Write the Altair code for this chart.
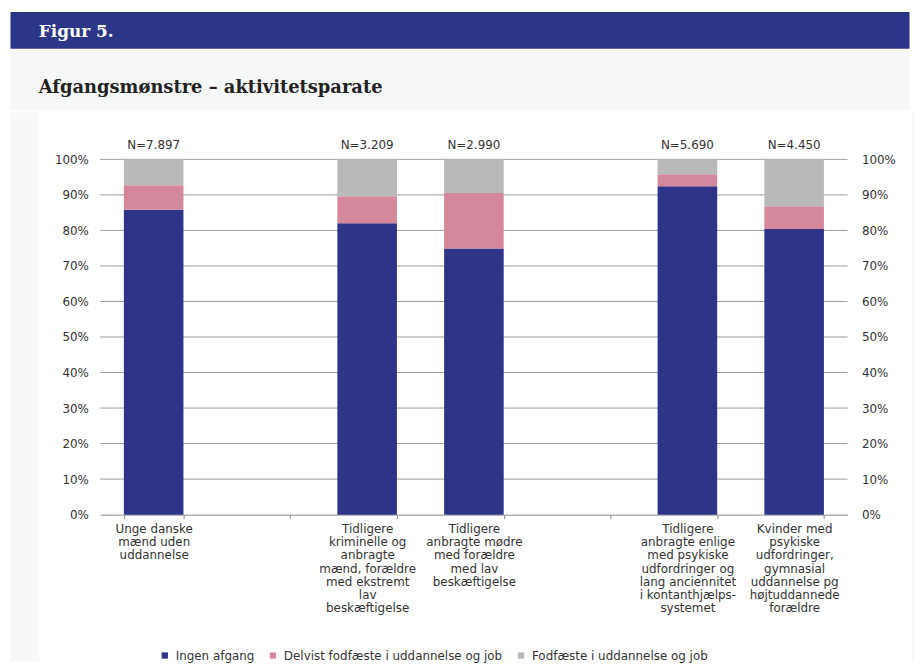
import altair as alt
import pandas as pd

# ---- data ----
categories = [
    "Unge danske|mænd uden|uddannelse",
    " ",
    "Tidligere|kriminelle og|anbragte|mænd, forældre|med ekstremt|lav|beskæftigelse",
    "Tidligere|anbragte mødre|med forældre|med lav|beskæftigelse",
    "  ",
    "Tidligere|anbragte enlige|med psykiske|udfordringer og|lang anciennitet|i kontanthjælps-|systemet",
    "Kvinder med|psykiske|udfordringer,|gymnasial|uddannelse pg|højtuddannede|forældre",
]
bar_groups = [categories[i] for i in (0, 2, 3, 5, 6)]
n_labels = ["N=7.897", "N=3.209", "N=2.990", "N=5.690", "N=4.450"]
series = ["Ingen afgang", "Delvist fodfæste i uddannelse og job", "Fodfæste i uddannelse og job"]
ingen_afgang = [85.8, 82.0, 74.9, 92.4, 80.4]
delvist = [6.9, 7.6, 15.6, 3.4, 6.4]
fodfaeste = [7.3, 10.4, 9.5, 4.2, 13.2]
colors = ["#2e3588", "#d5879b", "#b9b9b9"]
y_ticks = [0, 10, 20, 30, 40, 50, 60, 70, 80, 90, 100]
grid_values = [10, 20, 30, 40, 50, 60, 70, 80, 90, 100]

rows = []
for si, (name, vals) in enumerate(zip(series, [ingen_afgang, delvist, fodfaeste])):
    for g, v in zip(bar_groups, vals):
        rows.append({"group": g, "series": name, "value": v, "order": si})
bars_df = pd.DataFrame(rows)
n_df = pd.DataFrame({"group": bar_groups, "n": n_labels, "top": [100] * len(bar_groups)})
grid_df = pd.DataFrame({"g": grid_values})

FONT = "DejaVu Sans"
TXT = "#333333"
BG = "#f7f8f8"
HEADER = "#2c3687"
MAIN_H = 554
PAD = {"left": 0, "top": 0, "right": 0, "bottom": 0}

xscale = alt.Scale(domain=categories, range=[60, 813], paddingInner=0.442, paddingOuter=0.221)
yscale = alt.Scale(domain=[0, 100], range=[406, 48], nice=False)

pad = "\u00a0" * 24
legend = alt.Legend(
    orient="none", legendX=150, legendY=643, direction="horizontal", columns=3,
    title=None, symbolType="square", symbolSize=40, symbolStrokeWidth=0,
    labelFontSize=12, labelFont=FONT, labelColor=TXT, columnPadding=12,
    gridAlign="each", labelOffset=5, padding=0, labelLimit=500,
    labelExpr="datum.label == 'Ingen afgang' ? 'Ingen afgang" + pad + "' : datum.label",
)

grid = alt.Chart(grid_df).mark_rule(color="#9c9c9c", strokeWidth=1).encode(
    y=alt.Y("g:Q", scale=yscale, title=None,
            axis=alt.Axis(orient="right", offset=-61, values=y_ticks,
                          labelExpr="datum.value + '%'", domain=False, ticks=False,
                          grid=False, labelPadding=14, labelFontSize=12,
                          labelFont=FONT, labelColor=TXT)),
    x=alt.value(60),
    x2=alt.value(813),
)

bars = alt.Chart(bars_df).mark_bar().encode(
    x=alt.X("group:N", scale=xscale, title=None, sort=categories,
            axis=alt.Axis(orient="bottom", offset=-(MAIN_H - 406), labelExpr="split(datum.label, '|')",
                          tickBand="extent", domainColor="#8a8a8a", tickColor="#8a8a8a",
                          tickSize=4, tickWidth=1, labelAngle=0, labelPadding=5, labelBaseline="top",
                          labelLineHeight=13.3, labelFontSize=12, labelFont=FONT,
                          labelColor=TXT, labelOverlap=False, grid=False, labelLimit=300)),
    y=alt.Y("value:Q", scale=yscale, stack="zero", title=None,
            axis=alt.Axis(orient="left", offset=-60, values=y_ticks,
                          labelExpr="datum.value + '%'", domain=False, ticks=False,
                          grid=False, labelPadding=12, labelFontSize=12,
                          labelFont=FONT, labelColor=TXT)),
    color=alt.Color("series:N", scale=alt.Scale(domain=series, range=colors), legend=legend),
    order=alt.Order("order:Q"),
)

ntext = alt.Chart(n_df).mark_text(baseline="bottom", dy=-7, fontSize=12, font=FONT, color=TXT).encode(
    x=alt.X("group:N", scale=xscale, sort=categories),
    y=alt.Y("top:Q", scale=yscale, axis=None),
    text="n:N",
)

main = alt.layer(grid, bars, ntext).resolve_axis(y="independent").properties(
    width=874, height=MAIN_H, view=alt.ViewBackground(fill="white", stroke="transparent")
)

one = pd.DataFrame({"t": ["x"]})
TOTAL_W = 906
header = alt.Chart(one).mark_text(
    text="Figur 5.", font="DejaVu Serif", fontWeight="bold", fontSize=17,
    color="white", align="left", baseline="alphabetic"
).encode(x=alt.value(29), y=alt.value(26)).properties(
    width=TOTAL_W, height=37, view=alt.ViewBackground(fill=HEADER, stroke="transparent")
)

title_row = alt.Chart(one).mark_text(
    text="Afgangsmønstre – aktivitetsparate", font="DejaVu Serif", fontWeight="bold",
    fontSize=18, color="#222222", align="left", baseline="alphabetic"
).encode(x=alt.value(29), y=alt.value(43)).properties(
    width=TOTAL_W, height=60, view=alt.ViewBackground(fill=BG, stroke="transparent")
)

def spacer(w):
    return alt.Chart(one).mark_text(text=".", opacity=0, fontSize=4, baseline="middle").encode(
        x=alt.value(0), y=alt.value(20)
    ).properties(width=w, height=MAIN_H, view=alt.ViewBackground(fill=BG, stroke="transparent"))

row2 = alt.hconcat(spacer(29), main, spacer(3), spacing=0)

chart = alt.vconcat(header, title_row, row2, spacing=0).properties(
    background="white",
    padding=PAD,
).configure_view(stroke="transparent")

chart.save("out.html", embed_options={"renderer": "svg", "actions": False})
